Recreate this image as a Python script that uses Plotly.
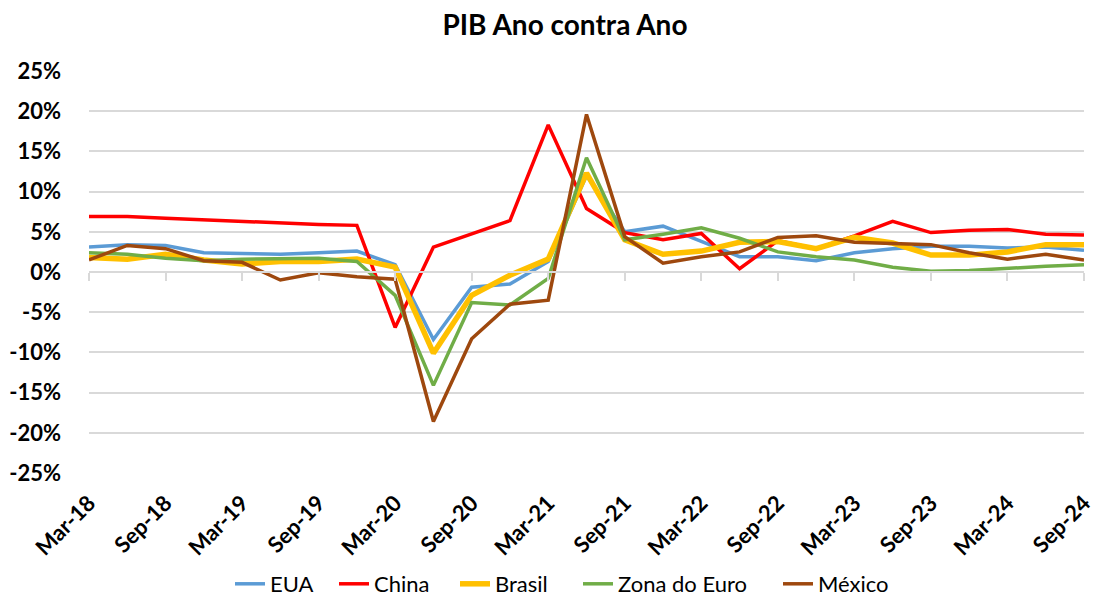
import plotly.graph_objects as go

quarters = ["Mar", "Jun", "Sep", "Dec"]
categories = []
for yr in range(18, 25):
    for q in quarters:
        categories.append(f"{q}-{yr}")
categories = categories[:27]  # Mar-18 .. Sep-24

tick_labels = ["Mar-18", "Sep-18", "Mar-19", "Sep-19", "Mar-20", "Sep-20", "Mar-21",
               "Sep-21", "Mar-22", "Sep-22", "Mar-23", "Sep-23", "Mar-24", "Sep-24"]

y_tick_vals = [25, 20, 15, 10, 5, 0, -5, -10, -15, -20, -25]
y_tick_text = ["25%", "20%", "15%", "10%", "5%", "0%", "-5%", "-10%", "-15%", "-20%", "-25%"]

eua = [3.1, 3.4, 3.3, 2.4, 2.3, 2.2, 2.4, 2.6, 0.9, -8.4, -1.9, -1.5, 1.3, 12.0, 5.0, 5.7,
       3.8, 1.9, 1.9, 1.4, 2.4, 2.9, 3.2, 3.2, 3.0, 3.1, 2.7]
china = [6.9, 6.9, 6.7, 6.5, 6.3, 6.0, 5.9, 5.8, -6.9, 3.1, 4.8, 6.4, 18.3, 7.9, 4.9, 4.0,
         4.8, 0.4, 3.9, 2.9, 4.5, 6.3, 4.9, 5.2, 5.3, 4.7, 4.6]
brasil = [1.8, 1.6, 2.2, 1.5, 1.0, 1.3, 1.3, 1.6, 0.6, -10.1, -2.9, -0.4, 1.6, 12.3, 4.0, 2.2,
          2.6, 3.7, 3.8, 2.9, 4.3, 3.6, 2.1, 2.1, 2.5, 3.4, 3.4]
zona_euro = [2.4, 2.2, 1.7, 1.4, 1.6, 1.6, 1.7, 1.3, -2.9, -14.1, -3.8, -4.1, -0.8, 14.2, 4.0, 4.7,
             5.5, 4.2, 2.5, 1.9, 1.5, 0.6, 0.1, 0.2, 0.5, 0.7, 0.9]
mexico = [1.5, 3.3, 2.9, 1.4, 1.2, -1.0, -0.1, -0.6, -0.9, -18.6, -8.3, -4.0, -3.5, 19.6, 4.4, 1.1,
          1.9, 2.5, 4.3, 4.5, 3.7, 3.6, 3.4, 2.4, 1.6, 2.2, 1.5]

series = [
    ("EUA", eua, "#5B9BD5", 3.5),
    ("China", china, "#FF0000", 3.5),
    ("Brasil", brasil, "#FFC000", 5.5),
    ("Zona do Euro", zona_euro, "#70AD47", 3.5),
    ("México", mexico, "#9E480E", 3.5),
]

# left edge (px) of each legend entry, as in the reference
legend_left_px = [230, 334, 455, 578, 778]
legend_ids = ["legend", "legend2", "legend3", "legend4", "legend5"]

FONT = "Lato"
W, H = 1094, 599

fig = go.Figure()
for (name, vals, color, width), lid in zip(series, legend_ids):
    fig.add_trace(go.Scatter(x=categories, y=vals, mode="lines", name=name,
                             line=dict(color=color, width=width), legend=lid))

# invisible trace on secondary x axis to draw tick marks along the zero line
fig.add_trace(go.Scatter(x=categories, y=[None] * len(categories), xaxis="x2",
                         showlegend=False, hoverinfo="skip"))

legend_layouts = {}
for lid, px in zip(legend_ids, legend_left_px):
    legend_layouts[lid] = dict(orientation="h", x=px / W, xref="container", xanchor="left",
                               y=1 - 584 / H, yref="container", yanchor="middle",
                               font=dict(family=FONT, size=22, color="black"),
                               itemwidth=30, bgcolor="rgba(0,0,0,0)")

fig.update_layout(
    width=W, height=H,
    paper_bgcolor="white", plot_bgcolor="white",
    margin=dict(l=89, r=10, t=71, b=126, autoexpand=False),
    title=dict(text="<b>PIB Ano contra Ano</b>", x=565 / W, xref="container",
               xanchor="center", y=1 - 25 / H, yref="container", yanchor="middle",
               font=dict(family=FONT, size=28, color="black")),
    font=dict(family=FONT, color="black"),
    xaxis=dict(type="category", range=[0, 26], tickmode="array", tickvals=tick_labels,
               ticktext=[f"<b>{t}</b>" for t in tick_labels], tickangle=-45,
               showgrid=False, showline=False, ticks="", zeroline=False,
               automargin=False, ticklabelstandoff=12,
               tickfont=dict(family=FONT, size=22, color="black")),
    xaxis2=dict(type="category", range=[0, 26], overlaying="x", anchor="free",
                position=0.5, side="bottom", showline=True, linecolor="#D9D9D9",
                linewidth=1.5, ticks="outside", ticklen=8, tickcolor="#D9D9D9",
                tickwidth=1.5, tickmode="array", tickvals=tick_labels,
                showticklabels=False, showgrid=False, zeroline=False, automargin=False),
    yaxis=dict(range=[-25, 25], tickmode="array", tickvals=y_tick_vals,
               ticktext=[f"<b>{t}</b>" for t in y_tick_text],
               showgrid=True, gridcolor="#D9D9D9", gridwidth=1.5, zeroline=False,
               showline=False, ticklabelstandoff=27, automargin=False,
               tickfont=dict(family=FONT, size=22, color="black")),
    showlegend=True,
    hovermode=False,
    **legend_layouts,
)

fig.write_html("out.html", config={"displayModeBar": False},
               post_script="document.body.style.margin='0px';")
